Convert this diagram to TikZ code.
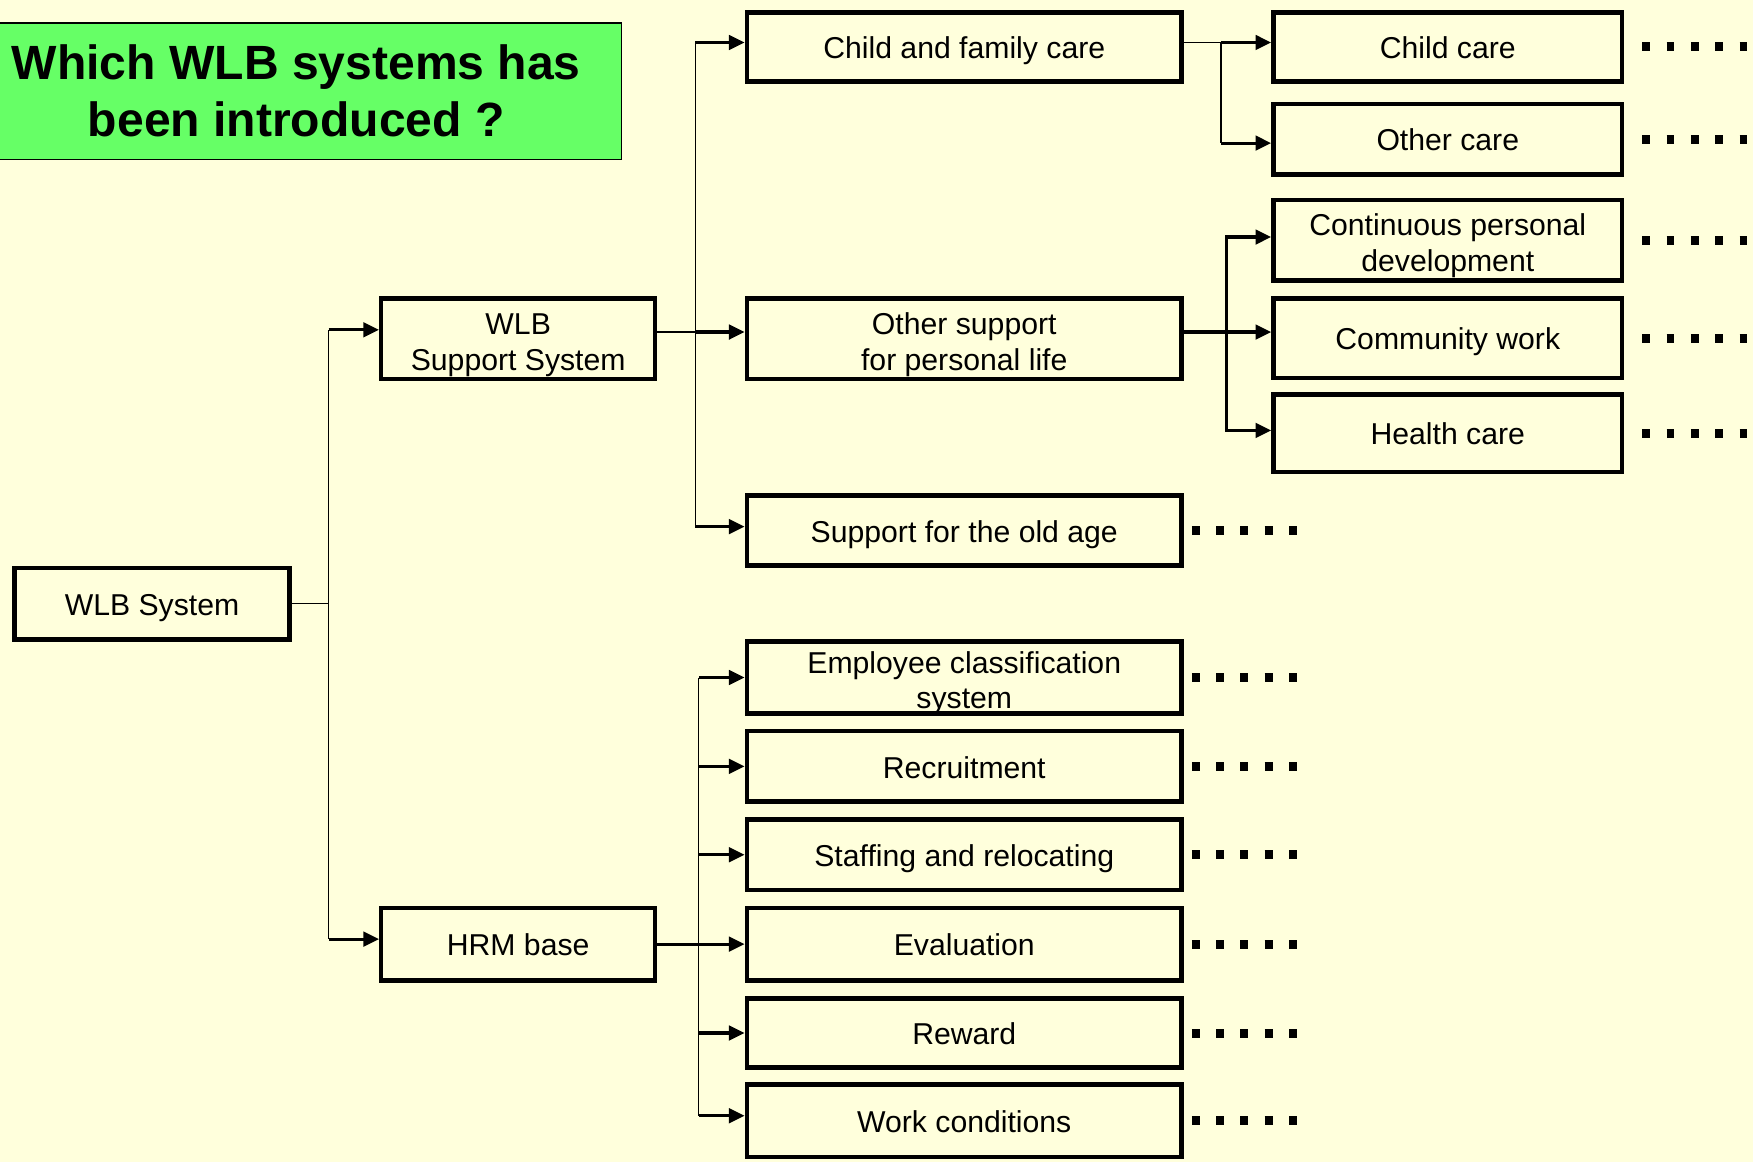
\documentclass[tikz,border=0pt]{standalone}
\usepackage{fontspec}
\setmainfont{Liberation Sans}
\usetikzlibrary{arrows.meta,calc}
\definecolor{bg}{RGB}{255,255,220}
\definecolor{tgreen}{RGB}{102,255,102}
\begin{document}
\begin{tikzpicture}[x=1pt,y=-1pt,
  box/.style={draw=black, line width=4pt, inner sep=2pt, align=center, font=\fontsize{27}{32}\selectfont},
  oneline/.style={text height=26pt, text depth=5pt},
  twoline/.style={text height=58pt, text depth=2pt},
  cone/.style={box, minimum width=245pt},
  ctwo/.style={box, minimum width=389pt},
  cthree/.style={box, minimum width=312pt},
  bus/.style={line width=1.3pt},
  arr/.style={line width=2.8pt, -{Triangle[length=14pt,width=13pt]}},
  darr/.style={line width=2.8pt, line join=miter, {Triangle[length=14pt,width=13pt]}-{Triangle[length=14pt,width=13pt]}},
  dots/.style={line width=8pt, dash pattern=on 7pt off 14.75pt},
]
\fill[bg] (0,0) rectangle (1568,1039);
\useasboundingbox (0,0) rectangle (1568,1039);

% title
\node[draw=black, fill=tgreen, line width=1.3pt, minimum width=562pt, minimum height=122pt, inner sep=0pt] (tbox) at (275,81.5) {};
\node[font=\fontsize{43}{51}\selectfont\bfseries, align=center] (title) at (265,81) {Which WLB systems has\\been introduced ?};

% nodes
\node[box, oneline, minimum width=246pt, minimum height=64pt] (ws) at (136,540) {WLB System};
\node[cone, twoline, minimum height=72pt] (wss) at (463.5,303) {WLB\\Support System};
\node[cone, oneline, minimum height=65pt] (hrm) at (463.5,844.5) {HRM base};

\node[ctwo, oneline, minimum height=62pt] (cfc) at (862.5,42) {Child and family care};
\node[ctwo, twoline, minimum height=72pt] (osp) at (862.5,303) {Other support\\for personal life};
\node[ctwo, oneline, minimum height=63pt] (old) at (862.5,474.5) {Support for the old age};
\node[ctwo, twoline, minimum height=64pt] (emp) at (862.5,606) {Employee classification\\system};
\node[ctwo, oneline, minimum height=63pt] (rec) at (862.5,685.5) {Recruitment};
\node[ctwo, oneline, minimum height=63pt] (sta) at (862.5,764.5) {Staffing and relocating};
\node[ctwo, oneline, minimum height=65pt] (eva) at (862.5,844.5) {Evaluation};
\node[ctwo, oneline, minimum height=62pt] (rew) at (862.5,924) {Reward};
\node[ctwo, oneline, minimum height=65pt] (wor) at (862.5,1002.5) {Work conditions};

\node[cthree, oneline, minimum height=62pt] (cc) at (1295,42) {Child care};
\node[cthree, oneline, minimum height=63pt] (oc) at (1295,124.5) {Other care};
\node[cthree, twoline, minimum height=72pt] (cpd) at (1295,215) {Continuous personal\\development};
\node[cthree, oneline, minimum height=71pt] (cw) at (1295,302.5) {Community work};
\node[cthree, oneline, minimum height=69pt] (hc) at (1295,387.5) {Health care};

% bus 1
\coordinate (b1top) at (294,295);
\coordinate (b1bot) at (294,840);
\draw[bus] (ws.east) -- (ws.east -| b1top);
\draw[bus] (b1top) -- (b1bot);
\draw[arr] (b1top) -- (b1top -| wss.west);
\draw[arr] (b1bot) -- (b1bot -| hrm.west);

% bus 2
\coordinate (b2top) at (622,38);
\coordinate (b2bot) at (622,471);
\draw[bus] (b2top) -- (b2bot);
\draw[bus] ([yshift=6pt]wss.east) -- ([yshift=6pt]wss.east -| b2top);
\draw[arr] ([yshift=6pt]wss.east -| b2top) -- ([yshift=6pt]wss.east -| osp.west);
\draw[arr] (b2top) -- (b2top -| cfc.west);
\draw[arr] (b2bot) -- (b2bot -| old.west);

% bus 3
\coordinate (b3top) at (625,606);
\coordinate (b3bot) at (625,998);
\draw[bus] (b3top) -- (b3bot);
\draw[arr] (hrm.east) -- (hrm.east -| eva.west);
\draw[arr] (b3top |- emp.west) -- (emp.west);
\draw[arr] (b3top |- rec.west) -- (rec.west);
\draw[arr] (b3top |- sta.west) -- (sta.west);
\draw[arr] (b3top |- rew.west) -- (rew.west);
\draw[arr] (b3bot) -- (b3bot -| wor.west);

% bus 4
\coordinate (b4top) at (1092,38);
\coordinate (b4bot) at (1092,128);
\draw[bus] ([yshift=4pt]cfc.east) -- (b4top) -- (b4bot);
\draw[arr] (b4top) -- (b4top -| cc.west);
\draw[arr] (b4bot) -- (b4bot -| oc.west);

% bus 5
\coordinate (b5top) at (1097,212);
\coordinate (b5bot) at (1097,385);
\draw[arr] ([yshift=6pt]osp.east) -- ([yshift=6pt]osp.east -| cw.west);
\draw[darr] (b5top -| cpd.west) -- (b5top) -- (b5bot) -- (b5bot -| hc.west);

% dots
\foreach \n in {cc,oc,cpd,cw,hc} \draw[dots] ([xshift=16pt]\n.east) -- ++(94,0);
\foreach \n in {old,emp,rec,sta,eva,rew,wor} \draw[dots] ([xshift=7pt]\n.east) -- ++(94,0);
\end{tikzpicture}
\end{document}
